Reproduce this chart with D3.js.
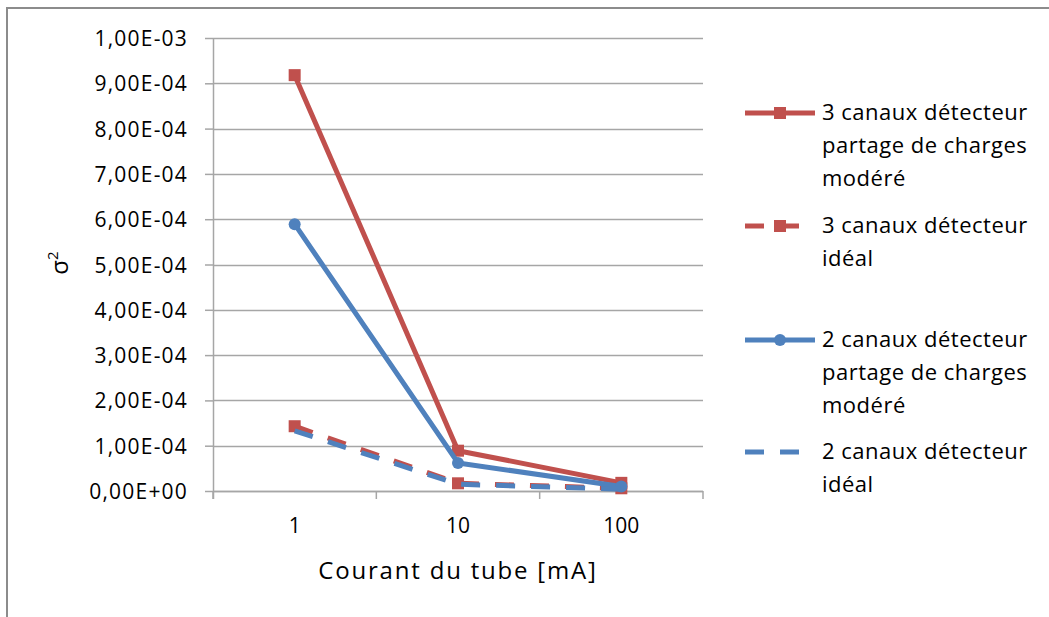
<!DOCTYPE html>
<html>
<head>
<meta charset="utf-8">
<script src="https://cdnjs.cloudflare.com/ajax/libs/d3/7.8.5/d3.min.js"></script>
<style>
  html, body { margin: 0; padding: 0; background: #fff; }
  svg { display: block; }
  text { font-family: "Open Sans", "DejaVu Sans", sans-serif; fill: #000; }
</style>
</head>
<body>
<svg id="chart" width="1049" height="617"></svg>
<script>
// ---- Data ----
const categories = ["1", "10", "100"];
const s3Modere = [9.18e-4, 8.9e-5, 1.8e-5];
const s3Ideal  = [1.43e-4, 1.7e-5, 6e-6];
const s2Modere = [5.89e-4, 6.2e-5, 1.0e-5];
const s2Ideal  = [1.33e-4, 1.5e-5, 4e-6];
const yTickValues = [0, 1e-4, 2e-4, 3e-4, 4e-4, 5e-4, 6e-4, 7e-4, 8e-4, 9e-4, 1e-3];
const seriesNames = [
  ["3 canaux détecteur", "partage de charges", "modéré"],
  ["3 canaux détecteur", "idéal"],
  ["2 canaux détecteur", "partage de charges", "modéré"],
  ["2 canaux détecteur", "idéal"]
];
const xTitle = "Courant du tube [mA]";

// ---- Styles ----
const RED = "#C0504D", BLUE = "#4F81BD";
const series = [
  { values: s3Modere, color: RED,  dash: null,    marker: "square", name: seriesNames[0] },
  { values: s3Ideal,  color: RED,  dash: "19,16", marker: "square", name: seriesNames[1] },
  { values: s2Modere, color: BLUE, dash: null,    marker: "circle", name: seriesNames[2] },
  { values: s2Ideal,  color: BLUE, dash: "19,16", marker: null,     name: seriesNames[3] }
];

const svg = d3.select("#chart");

// outer chart border
svg.append("rect").attr("x", 7).attr("y", 8).attr("width", 1100).attr("height", 700)
  .attr("fill", "none").attr("stroke", "#8c8c8c").attr("stroke-width", 2);

const plot = { left: 213, right: 703, top: 38, bottom: 491 };
const x = d3.scaleBand().domain(categories).range([plot.left, plot.right]).padding(0);
const y = d3.scaleLinear().domain([0, 1e-3]).range([plot.bottom, plot.top]);
const cx = c => x(c) + x.bandwidth() / 2;

function fmt(v) {
  let [m, e] = v.toExponential(2).split("e");
  const sign = e[0] === "-" ? "-" : "+";
  e = e.replace(/^[+-]/, "");
  if (e.length < 2) e = "0" + e;
  return m.replace(".", ",") + "E" + sign + e;
}

const GRID = "#a6a6a6";

// gridlines
svg.append("g").selectAll("line").data(yTickValues).join("line")
  .attr("x1", plot.left).attr("x2", plot.right)
  .attr("y1", d => Math.round(y(d)) + 0.5).attr("y2", d => Math.round(y(d)) + 0.5)
  .attr("stroke", GRID).attr("stroke-width", 1.5);

// y axis
const yAxis = d3.axisLeft(y).tickValues(yTickValues).tickFormat(fmt).tickSize(8).tickSizeOuter(0).tickPadding(17);
const gy = svg.append("g").attr("transform", `translate(${plot.left},0)`).call(yAxis);
gy.select(".domain").remove();
gy.selectAll(".tick line").attr("stroke", GRID).attr("stroke-width", 1.5);
gy.selectAll(".tick text").attr("font-size", 21).attr("letter-spacing", "1.2px")
  .attr("font-family", "'Open Sans', sans-serif").attr("fill", "#000").attr("dy", "0.36em");
svg.append("line").attr("x1", plot.left + 0.5).attr("x2", plot.left + 0.5)
  .attr("y1", plot.top).attr("y2", plot.bottom + 8).attr("stroke", GRID).attr("stroke-width", 1.5);

// x axis
const gx = svg.append("g").attr("transform", `translate(0,${plot.bottom})`);
gx.append("line").attr("x1", plot.left).attr("x2", plot.right).attr("y1", 0.5).attr("y2", 0.5)
  .attr("stroke", GRID).attr("stroke-width", 1.5);
const bounds = categories.map(c => x(c)).concat([plot.right]);
gx.selectAll("line.tk").data(bounds).join("line").attr("class", "tk")
  .attr("x1", d => d).attr("x2", d => d).attr("y1", 0).attr("y2", 8)
  .attr("stroke", GRID).attr("stroke-width", 1.5);
gx.selectAll("text").data(categories).join("text")
  .attr("x", d => cx(d)).attr("y", 42).attr("text-anchor", "middle")
  .attr("font-size", 21).text(d => d);

// axis titles
svg.append("text").attr("x", (plot.left + plot.right) / 2).attr("y", 579)
  .attr("text-anchor", "middle").attr("font-size", 24).attr("letter-spacing", "1.8px").text(xTitle);

const yt = svg.append("text").attr("transform", "translate(68,263) rotate(-90)")
  .attr("text-anchor", "middle").attr("font-size", 24);
yt.append("tspan").text("σ");
yt.append("tspan").attr("font-size", 15).attr("dy", -10).text("2");

// series
const line = d3.line().x((d, i) => cx(categories[i])).y(d => y(d));
function drawMarker(g, type, px, py, color) {
  if (type === "square") {
    g.append("rect").attr("x", px - 6).attr("y", py - 6).attr("width", 12).attr("height", 12).attr("fill", color);
  } else if (type === "circle") {
    g.append("circle").attr("cx", px).attr("cy", py).attr("r", 6).attr("fill", color);
  }
}
series.forEach(s => {
  const g = svg.append("g");
  g.append("path").datum(s.values).attr("d", line).attr("fill", "none")
    .attr("stroke", s.color).attr("stroke-width", 5).attr("stroke-linejoin", "round")
    .attr("stroke-dasharray", s.dash);
  if (s.marker) s.values.forEach((v, i) => drawMarker(g, s.marker, cx(categories[i]), y(v), s.color));
});

// legend
const legendLineY = [113, 226, 340, 452];
const lg = svg.append("g");
series.forEach((s, k) => {
  const ly = legendLineY[k];
  const g = lg.append("g");
  g.append("line").attr("x1", 745).attr("x2", 815).attr("y1", ly).attr("y2", ly)
    .attr("stroke", s.color).attr("stroke-width", 5).attr("stroke-dasharray", s.dash);
  if (s.marker) drawMarker(g, s.marker, 780, ly, s.color);
  const t = g.append("text").attr("x", 822).attr("y", ly + 7).attr("font-size", 22).attr("letter-spacing", "0.5px");
  s.name.forEach((ln, j) => t.append("tspan").attr("x", 822).attr("dy", j === 0 ? 0 : 33).text(ln));
});
</script>
</body>
</html>
